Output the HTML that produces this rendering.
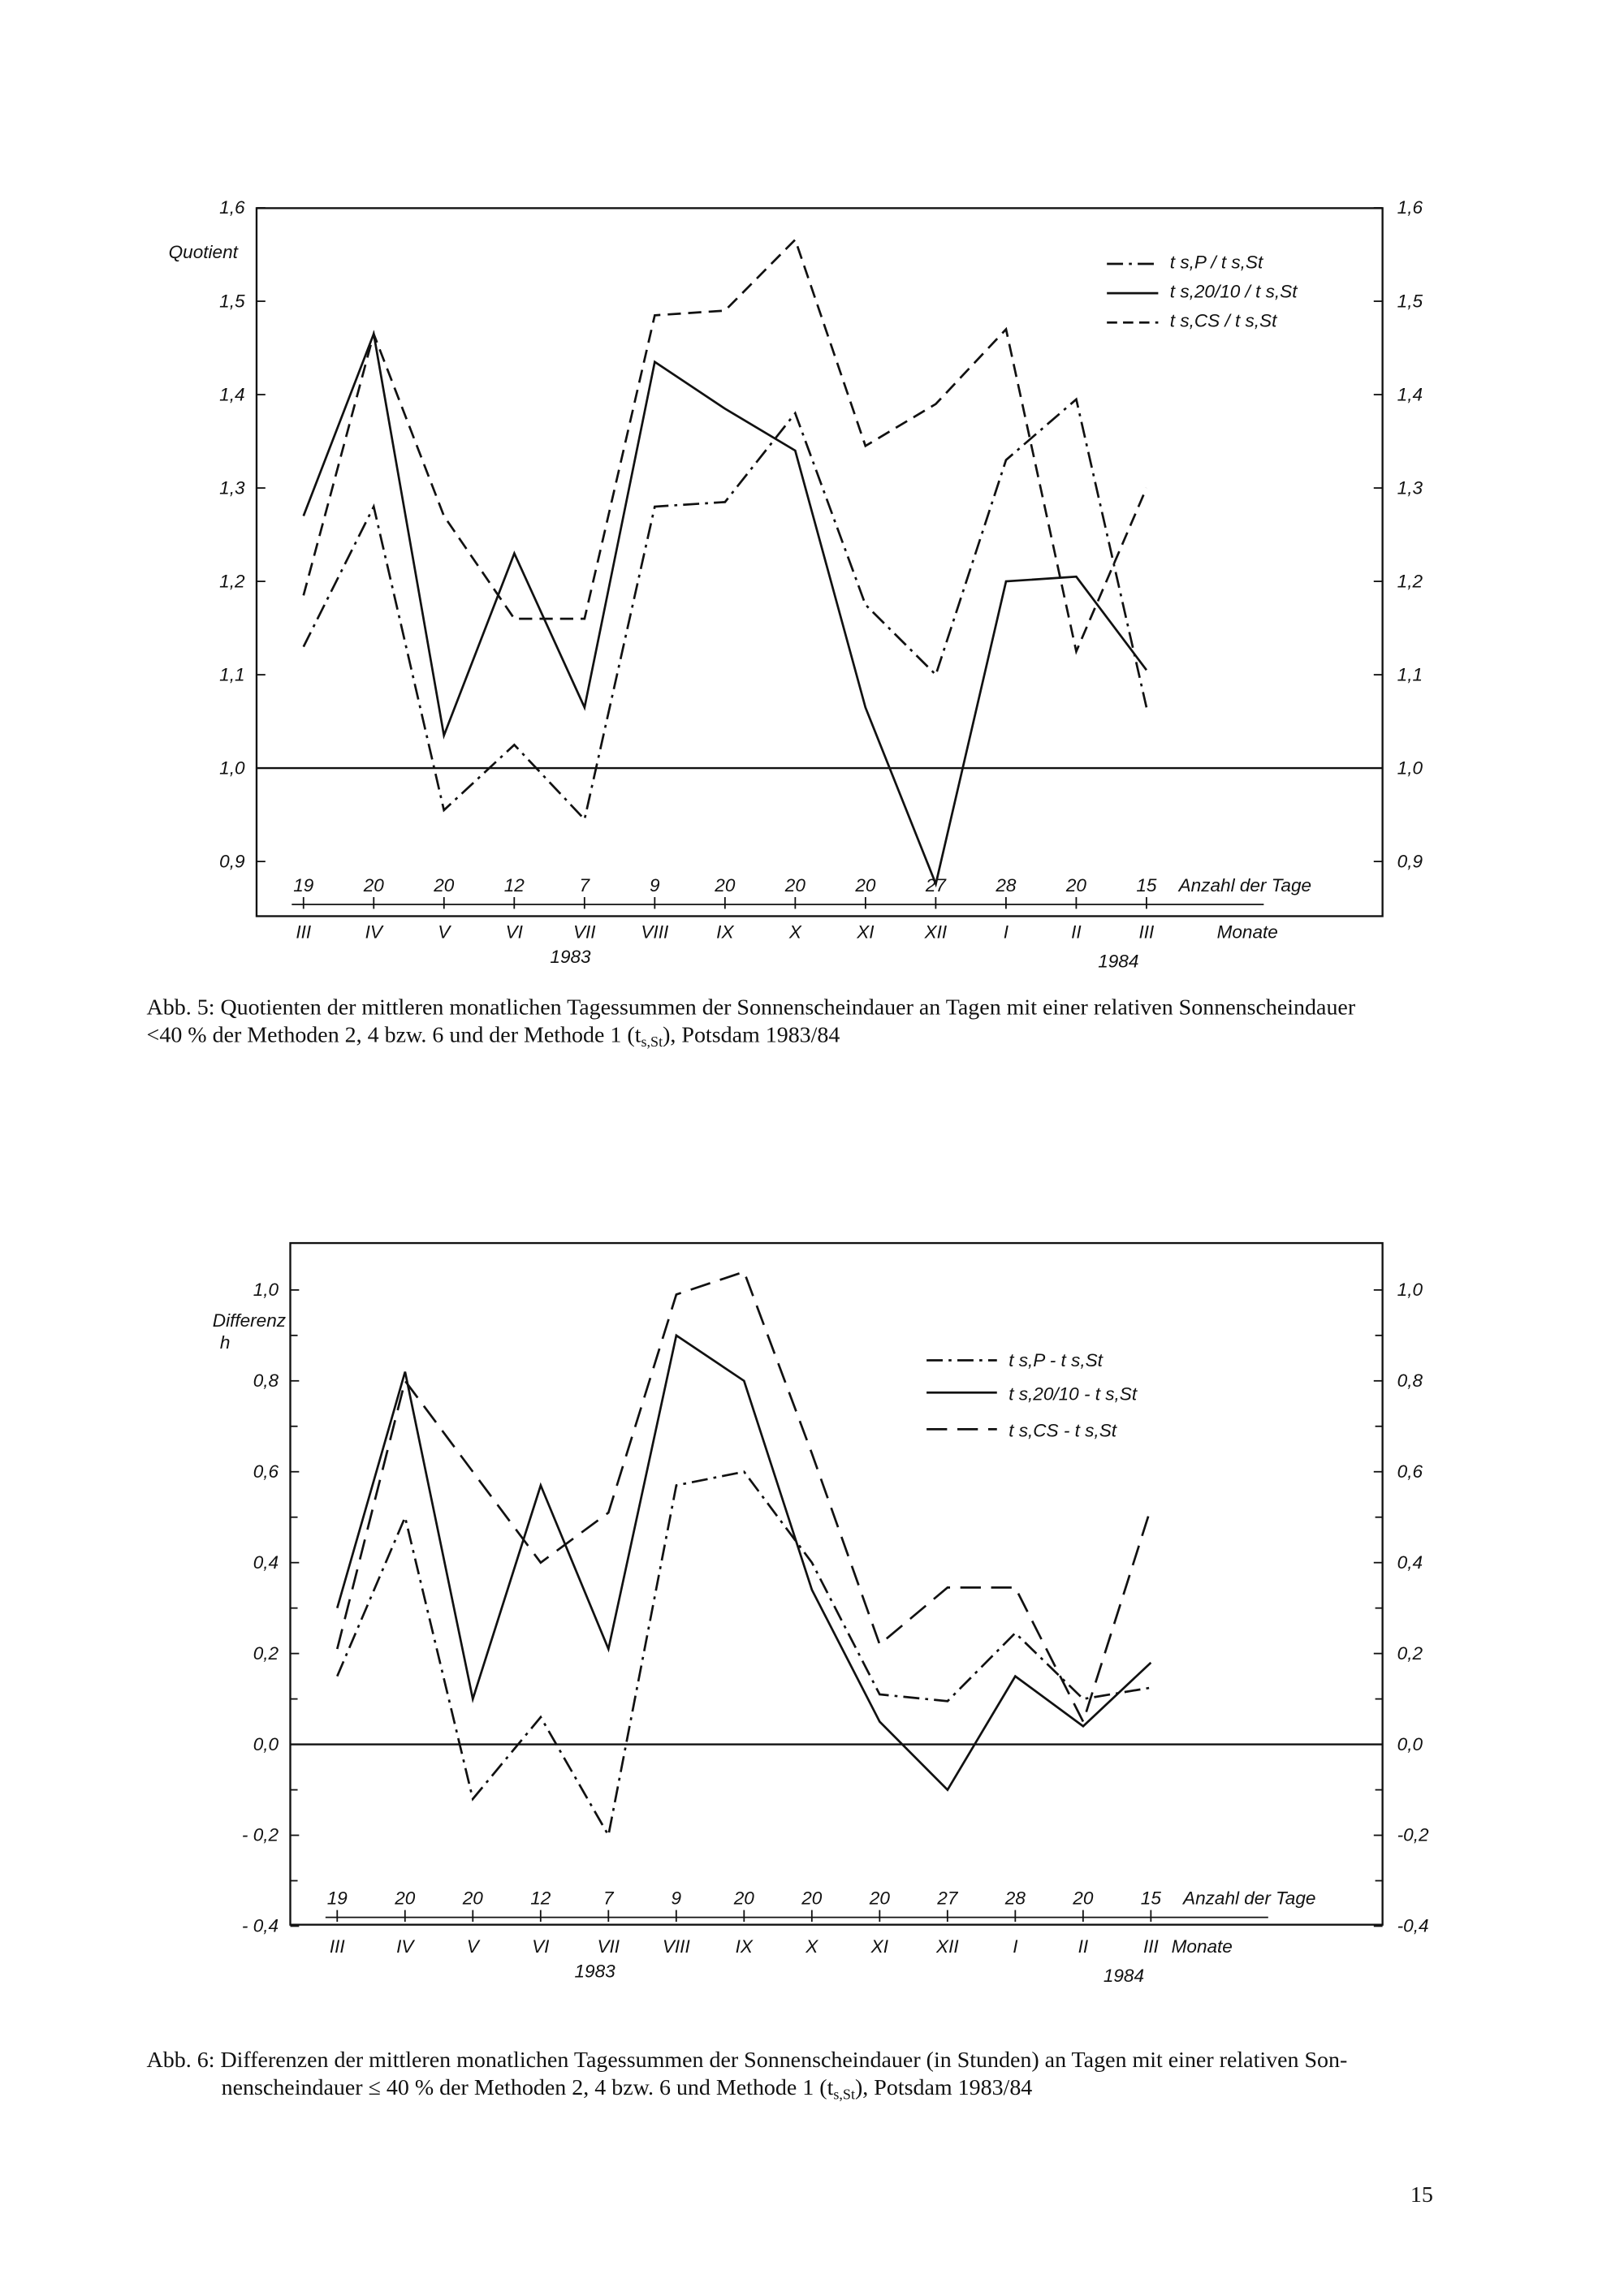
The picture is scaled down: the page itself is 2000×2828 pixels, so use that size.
<!DOCTYPE html>
<html><head><meta charset="utf-8"><style>
html,body{margin:0;padding:0;background:#fff}
svg{display:block}
.it{font-family:"Liberation Sans",sans-serif;font-style:italic;font-size:12.5px;fill:#111}
.cap{font-family:"Liberation Serif",serif;font-size:15.5px;fill:#111}
</style></head><body>
<svg id="page" width="2000" height="2828" viewBox="0 0 1107.7 1566.3" xmlns="http://www.w3.org/2000/svg">
<g id="c1"></g>
<g id="c2"></g>
<text class="cap" x="100" y="692">Abb. 5: Quotienten der mittleren monatlichen Tagessummen der Sonnenscheindauer an Tagen mit einer relativen Sonnenscheindauer</text>
<text class="cap" x="100" y="711">&lt;40 % der Methoden 2, 4 bzw. 6 und der Methode 1 (t<tspan font-size="10" dy="3">s,St</tspan><tspan dy="-3">), Potsdam 1983/84</tspan></text>
<text class="cap" x="100" y="1410">Abb. 6: Differenzen der mittleren monatlichen Tagessummen der Sonnenscheindauer (in Stunden) an Tagen mit einer relativen Son-</text>
<text class="cap" x="151" y="1429">nenscheindauer ≤ 40 % der Methoden 2, 4 bzw. 6 und Methode 1 (t<tspan font-size="10" dy="3">s,St</tspan><tspan dy="-3">), Potsdam 1983/84</tspan></text>
<text class="cap" x="962" y="1502">15</text>
</svg>
<script>
const months=["III","IV","V","VI","VII","VIII","IX","X","XI","XII","I","II","III"];
const counts=["19","20","20","12","7","9","20","20","20","27","28","20","15"];
const q_solid=[1.27,1.465,1.035,1.23,1.065,1.435,1.385,1.34,1.065,0.876,1.2,1.205,1.105];
const q_cs=[1.185,1.465,1.27,1.16,1.16,1.485,1.49,1.566,1.345,1.39,1.47,1.125,1.3];
const q_p=[1.13,1.28,0.955,1.025,0.945,1.28,1.285,1.38,1.175,1.1,1.33,1.395,1.065];
const qTicks=[1.6,1.5,1.4,1.3,1.2,1.1,1.0,0.9];
const d_solid=[0.3,0.82,0.1,0.57,0.21,0.9,0.8,0.34,0.05,-0.1,0.15,0.04,0.18];
const d_cs=[0.21,0.8,0.6,0.4,0.51,0.99,1.04,0.64,0.22,0.345,0.345,0.05,0.52];
const d_p=[0.15,0.5,-0.12,0.06,-0.2,0.57,0.6,0.4,0.11,0.095,0.245,0.1,0.125];
const dTicks=[1.0,0.8,0.6,0.4,0.2,0.0,-0.2,-0.4];
const NS="http://www.w3.org/2000/svg";
function mk(p,t,a){const e=document.createElementNS(NS,t);for(const k in a)e.setAttribute(k,a[k]);p.appendChild(e);return e;}
function fmt(v,neg){let s=v.toFixed(1).replace('.',',');if(neg&&v<0)s='- '+s.slice(1);return s;}
function chart(g,o){
  const x=i=>o.x0+i*(o.x1-o.x0)/12;
  const y=v=>o.yRef-(v-o.vRef)*o.k;
  let r=mk(g,'rect',{x:o.L,y:o.T,width:o.R-o.L,height:o.B-o.T,fill:'none',stroke:'#111','stroke-width':1.3});
  
  let base=mk(g,'line',{x1:o.L,x2:o.R,y1:y(o.baseV),y2:y(o.baseV),stroke:'#111','stroke-width':1.3});
  
  o.ticks.forEach(v=>{
    const yy=y(v);
    let t=mk(g,'line',{x1:o.L,x2:o.L+6,y1:yy,y2:yy,stroke:'#111'});
    
    let t2=mk(g,'line',{x1:o.R-6,x2:o.R,y1:yy,y2:yy,stroke:'#111'});
    
    let l=mk(g,'text',{x:o.L-8,y:yy+4,'text-anchor':'end',class:'it'});l.textContent=fmt(v,o.neg);
    
    let l2=mk(g,'text',{x:o.R+10,y:yy+4+(o.rOff||0),class:'it'});l2.textContent=fmt(v,o.neg).replace('- ','-');
    
    if(o.minor){const ym=y(v-o.minor);if(ym<o.B-2){
      let m=mk(g,'line',{x1:o.L,x2:o.L+5,y1:ym,y2:ym,stroke:'#111'});
      let m2=mk(g,'line',{x1:o.R-5,x2:o.R,y1:ym,y2:ym,stroke:'#111'});}}
  });
  months.forEach((m,i)=>{
    let c=mk(g,'text',{x:x(i),y:o.cntY,'text-anchor':'middle',class:'it'});c.textContent=counts[i];
    
    let tk=mk(g,'line',{x1:x(i),x2:x(i),y1:o.cntY+4,y2:o.cntY+12,stroke:'#111'});
    
    let ml=mk(g,'text',{x:x(i),y:o.monY,'text-anchor':'middle',class:'it'});ml.textContent=m;
    
  });
  let tl=mk(g,'line',{x1:o.x0-8,x2:o.x1+80,y1:o.cntY+9,y2:o.cntY+9,stroke:'#111'});
  
  let an=mk(g,'text',{x:x(12)+22,y:o.cntY,class:'it'});an.textContent='Anzahl der Tage';
  
  let mo=mk(g,'text',{x:x(12)+o.monOff,y:o.monY,class:'it'});mo.textContent='Monate';
  
  let y1=mk(g,'text',{x:x(3.8),y:o.monY+17,'text-anchor':'middle',class:'it'});y1.textContent='1983';
  
  let y2=mk(g,'text',{x:x(11.6),y:o.monY+20,'text-anchor':'middle',class:'it'});y2.textContent='1984';
  
  o.series.forEach(s=>{
    const pts=s.d.map((v,i)=>x(i).toFixed(1)+','+y(v).toFixed(1)).join(' ');
    let pl=mk(g,'polyline',{points:pts,fill:'none',stroke:'#111','stroke-width':1.5,'stroke-dasharray':s.dash,'stroke-linejoin':'miter'});
    
  });
}
const c1=document.getElementById('c1'),c2=document.getElementById('c2');
chart(c1,{L:175,R:943,T:142,B:625,x0:207,x1:782,yRef:524,vRef:1.0,k:637,baseV:1.0,ticks:qTicks,cntY:608,monY:640,monOff:48,
 series:[{d:q_solid,dash:'none',name:'series-ts-20-10-quotient'},{d:q_cs,dash:'9 5',name:'series-ts-cs-quotient'},{d:q_p,dash:'11 4 2 4',name:'series-ts-p-quotient'}]});
chart(c2,{L:198,R:943,T:848,B:1313,x0:230,x1:785,yRef:1190,vRef:0,k:310,baseV:0,ticks:dTicks,neg:true,minor:0.1,rOff:0,cntY:1299,monY:1332,monOff:14,
 series:[{d:d_solid,dash:'none',name:'series-ts-20-10-difference'},{d:d_cs,dash:'14 7',name:'series-ts-cs-difference'},{d:d_p,dash:'11 4 2 4',name:'series-ts-p-difference'}]});
function txt(g,x,y,s,name,extra){let t=mk(g,'text',Object.assign({x:x,y:y,class:'it'},extra||{}));t.textContent=s;return t;}
function ln(g,x1,x2,y,dash,name){let l=mk(g,'line',{x1:x1,x2:x2,y1:y,y2:y,stroke:'#111','stroke-width':1.5,'stroke-dasharray':dash});}
txt(c1,115,176,'Quotient','y-axis-title');
ln(c1,755,790,180,'11 4 2 4','legend-line-p');txt(c1,798,183,'t s,P / t s,St','legend-label-p',{'font-size':14});
ln(c1,755,790,200,'none','legend-line-20-10');txt(c1,798,203,'t s,20/10 / t s,St','legend-label-20-10',{'font-size':14});
ln(c1,755,790,220,'7 4','legend-line-cs');txt(c1,798,223,'t s,CS / t s,St','legend-label-cs',{'font-size':14});
txt(c2,145,905,'Differenz','y-axis-title');txt(c2,150,920,'h','y-axis-unit');
ln(c2,632,680,928,'11 4 2 4','legend-line-p');txt(c2,688,932,'t s,P - t s,St','legend-label-p',{'font-size':14});
ln(c2,632,680,950,'none','legend-line-20-10');txt(c2,688,955,'t s,20/10 - t s,St','legend-label-20-10',{'font-size':14});
ln(c2,632,680,975,'14 7','legend-line-cs');txt(c2,688,980,'t s,CS - t s,St','legend-label-cs',{'font-size':14});
</script>
</body></html>
